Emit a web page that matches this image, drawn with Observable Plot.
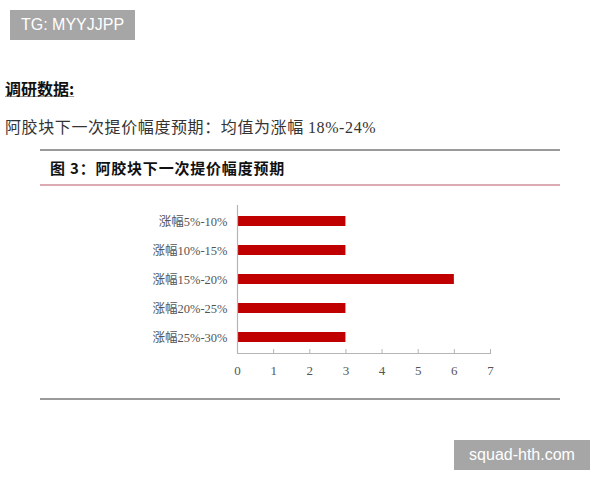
<!DOCTYPE html>
<html>
<head>
<meta charset="utf-8">
<script src="https://cdn.jsdelivr.net/npm/d3@7"></script>
<script src="https://cdn.jsdelivr.net/npm/@observablehq/plot@0.6"></script>
<style>
  html, body { margin: 0; padding: 0; background: #fff; }
  #page { position: relative; width: 600px; height: 480px; overflow: hidden; font-family: "Noto Sans CJK SC", sans-serif; }
  .badge { position: absolute; background: #a6a6a6; color: #fff; font-family: "Liberation Sans", Arial, sans-serif; font-size: 16px; line-height: 30px; text-align: center; }
  .abs { position: absolute; white-space: nowrap; }
  .rule { position: absolute; height: 0; }
  #chart { position: absolute; left: 0; top: 200px; }
</style>
</head>
<body>
<div id="page">
  <div class="badge" style="left:10px;top:10px;width:125px;height:30px;">TG: MYYJJPP</div>
  <div class="abs" style="left:5px;top:76px;font-size:16px;font-weight:bold;color:#111;text-decoration:underline;text-decoration-color:#999;">调研数据:</div>
  <div class="abs" style="left:5px;top:114px;font-size:16px;color:#333;letter-spacing:0.6px;">阿胶块下一次提价幅度预期：均值为涨幅 <span style="font-family:'Liberation Serif',serif;">18%-24%</span></div>
  <div class="rule" style="left:40px;top:149px;width:520px;border-top:2px solid #9a9a9a;"></div>
  <div class="abs" style="left:50px;top:157px;font-size:15px;font-weight:bold;color:#111;letter-spacing:0.8px;">图 3：阿胶块下一次提价幅度预期</div>
  <div class="rule" style="left:40px;top:184px;width:520px;border-top:2px solid #dcaab2;"></div>
  <div id="chart"></div>
  <div class="rule" style="left:40px;top:398px;width:520px;border-top:2px solid #9a9a9a;"></div>
  <div class="badge" style="left:454px;top:440px;width:136px;height:30px;">squad-hth.com</div>
</div>
<script>
const categories = ["涨幅5%-10%", "涨幅10%-15%", "涨幅15%-20%", "涨幅20%-25%", "涨幅25%-30%"];
const counts = [3, 3, 6, 3, 3];
const xTicks = [0, 1, 2, 3, 4, 5, 6, 7];

const data = categories.map((c, i) => ({category: c, count: counts[i]}));

const chart = Plot.plot({
  width: 600,
  height: 180,
  marginLeft: 237,
  marginRight: 110,
  marginTop: 5,
  marginBottom: 27,
  style: {fontFamily: "'Liberation Serif', 'Noto Sans CJK SC', serif", fontSize: "12.5px", color: "#555", background: "transparent"},
  x: {domain: [0, 7], ticks: xTicks, label: null},
  y: {domain: categories, paddingInner: 0.65, paddingOuter: 0.36, label: null},
  marks: [
    Plot.barX(data, {x: "count", y: "category", fill: "#c00000"}),
    Plot.ruleX([0], {stroke: "#b5b5b5", strokeWidth: 1.2}),
    Plot.frame({anchor: "bottom", stroke: "#b5b5b5", strokeWidth: 1.2}),
    Plot.axisX({ticks: xTicks, tickSize: 4, dy: -4, tickPadding: 12, stroke: "#b5b5b5", fill: "#555", fontSize: 13, tickFormat: d => String(d)}),
    Plot.axisY({tickSize: 0, tickPadding: 10, fill: "#555"})
  ]
});
document.getElementById("chart").appendChild(chart);
</script>
</body>
</html>
